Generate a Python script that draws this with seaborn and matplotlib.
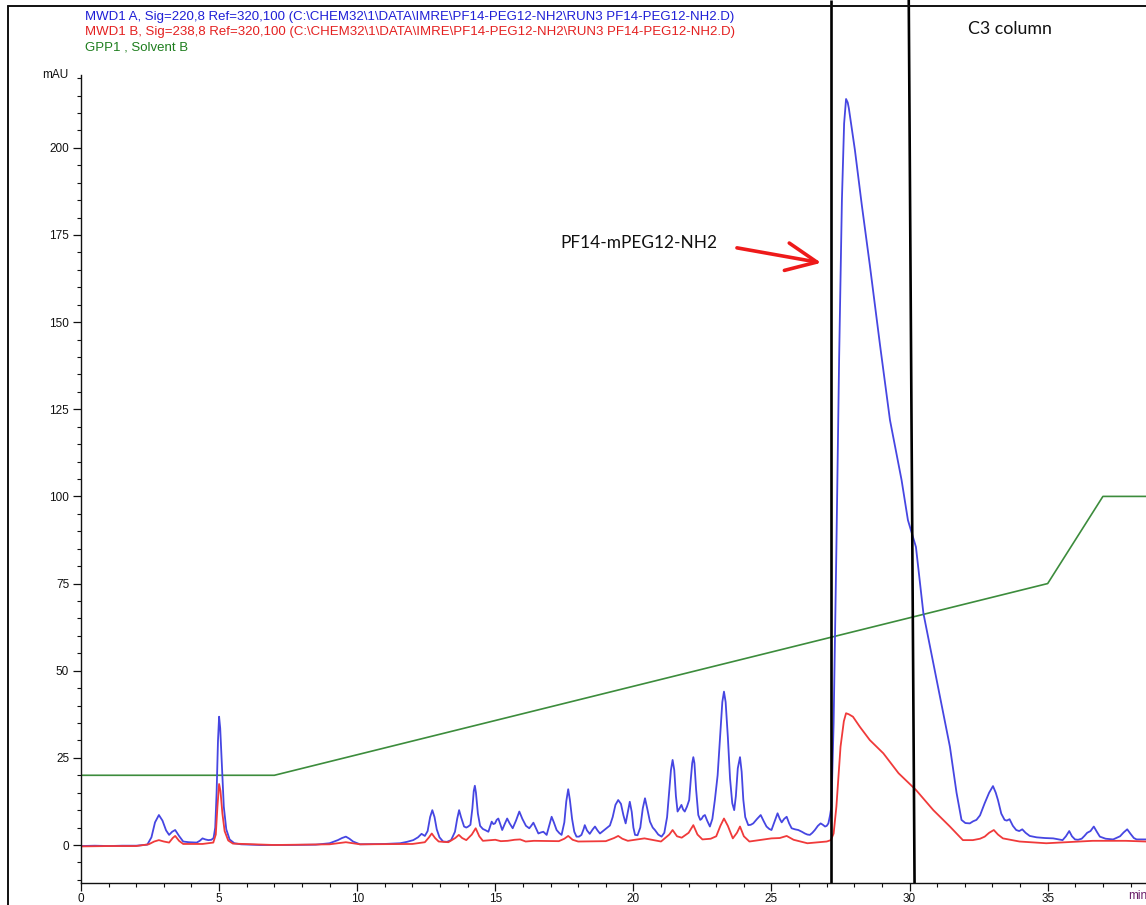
import numpy as np
import pandas as pd
import matplotlib
matplotlib.use("Agg")
import matplotlib.pyplot as plt
from matplotlib.lines import Line2D
from matplotlib.ticker import MultipleLocator
import seaborn as sns

# --- Signal A (220 nm): retention time [min] and absorbance [mAU] ---
sig_a_time = [0, 0.5, 1.0, 1.5, 2.0, 2.40, 2.55, 2.68, 2.82, 2.95, 3.08, 3.19, 3.30, 3.41, 3.55,
              3.70, 3.90, 4.19, 4.30, 4.40, 4.50, 4.61, 4.72, 4.80, 4.86, 4.91, 4.96, 5.00, 5.04,
              5.10, 5.17, 5.26, 5.38, 5.55, 5.80, 6.5, 7.5, 8.5, 9.0, 9.3, 9.45, 9.59, 9.72, 9.85,
              10.1, 11.0, 11.55, 11.8,
              12.03, 12.2, 12.33, 12.45, 12.55, 12.64, 12.72, 12.80, 12.88, 12.98, 13.11, 13.25,
              13.40, 13.54, 13.62, 13.69, 13.76, 13.87, 13.95, 14.02, 14.10, 14.17, 14.22, 14.26,
              14.30, 14.37, 14.45, 14.55, 14.63, 14.75, 14.82, 14.87, 14.93, 14.99, 15.05, 15.11,
              15.18, 15.25, 15.34, 15.43, 15.52, 15.63, 15.75, 15.87, 15.98, 16.11, 16.23, 16.30,
              16.38, 16.46, 16.56, 16.65, 16.74, 16.86, 16.95, 17.04, 17.12, 17.22, 17.32, 17.40,
              17.50, 17.57, 17.64, 17.70, 17.78, 17.86, 17.94, 18.03, 18.12, 18.20, 18.24, 18.32,
              18.42, 18.52, 18.61, 18.70, 18.79, 18.90, 19.03, 19.15, 19.25, 19.35, 19.45, 19.55,
              19.64, 19.72, 19.80, 19.87, 19.94, 20.00, 20.06, 20.15, 20.25, 20.34, 20.42, 20.50,
              20.60, 20.70, 20.78, 20.90, 21.02, 21.12, 21.22, 21.30, 21.36, 21.42, 21.48, 21.54,
              21.60, 21.67, 21.74, 21.80, 21.86, 21.94, 22.02, 22.08, 22.13, 22.17, 22.21, 22.27,
              22.35, 22.42, 22.47, 22.53, 22.59, 22.67, 22.77, 22.86, 22.95, 23.05, 23.14, 23.22,
              23.28, 23.34, 23.42, 23.50, 23.58, 23.65, 23.71, 23.78, 23.86, 23.92, 23.98, 24.05,
              24.16, 24.25, 24.34, 24.48, 24.61, 24.72, 24.82, 24.92, 25.00, 25.10, 25.22, 25.30,
              25.37, 25.46, 25.55, 25.64, 25.73, 25.85, 25.97, 26.10, 26.21, 26.30, 26.39, 26.48,
              26.57, 26.68, 26.78, 26.86, 26.94, 27.00, 27.06, 27.12, 27.17,
              27.25, 27.35, 27.45, 27.55, 27.63, 27.70, 27.76, 27.80, 28.02, 28.27, 28.56, 28.93,
              29.29, 29.71, 29.94, 30.23, 30.50, 30.98, 31.46, 31.70, 31.88, 32.02, 32.18, 32.30,
              32.42, 32.55, 32.72, 32.88, 33.02, 33.12, 33.20, 33.32, 33.44, 33.52, 33.62, 33.74,
              33.86, 33.97, 34.08, 34.20, 34.35, 34.60, 34.90, 35.20, 35.40, 35.54, 35.66, 35.78,
              35.88, 35.99, 36.10, 36.23, 36.33, 36.43, 36.55, 36.67, 36.78, 36.89, 37.10, 37.37,
              37.62, 37.75, 37.88, 38.00, 38.12, 38.22, 38.56]
sig_a_mau = [-0.3, -0.2, -0.3, -0.2, -0.2, 0.1, 2.2, 6.5, 8.6, 7.0, 4.2, 2.9, 3.8, 4.3, 2.6,
             1.0, 0.8, 0.7, 1.2, 1.9, 1.6, 1.4, 1.5, 2.0, 5.0, 15.0, 30.0, 36.8, 33.5,
             23.0, 11.0, 4.5, 1.6, 0.5, 0.2, 0.0, 0.0, 0.1, 0.5, 1.4, 2.0, 2.4, 1.8, 1.0,
             0.2, 0.3, 0.5, 0.9,
             1.4, 2.2, 3.2, 2.6, 4.0, 8.0, 10.0, 8.0, 4.5, 2.2, 1.0, 0.9,
             1.4, 3.8, 7.5, 10.0, 8.0, 5.3, 5.0, 5.3, 5.8, 10.5, 15.5, 17.0,
             15.0, 9.0, 5.5, 4.6, 4.3, 3.8, 5.5, 6.7, 6.0, 6.2, 7.2, 7.6,
             6.0, 4.3, 6.0, 7.6, 6.2, 4.8, 7.0, 9.6, 7.5, 5.5, 4.8, 5.5,
             6.4, 5.0, 3.3, 3.6, 3.8, 2.9, 5.5, 8.1, 6.5, 4.3, 3.4, 2.9,
             6.5, 12.5, 16.0, 13.0, 7.5, 3.8, 2.4, 2.4, 2.9, 4.6, 5.7, 4.2,
             3.2, 4.4, 5.3, 4.2, 3.3, 4.0, 4.8, 5.6, 8.0, 11.5, 12.9, 11.8,
             8.5, 6.2, 9.5, 12.4, 9.5, 5.0, 2.9, 2.8, 5.0, 10.5, 13.4, 10.5,
             6.7, 5.0, 4.3, 3.0, 2.4, 3.5, 8.0, 15.5, 21.5, 24.4, 21.5, 14.0,
             9.6, 10.5, 11.5, 10.2, 9.6, 11.0, 12.9, 19.0, 23.5, 25.2, 23.5, 16.0,
             8.6, 7.2, 7.5, 8.3, 8.6, 7.0, 5.3, 7.5, 12.9, 20.0, 31.0, 41.0,
             44.0, 41.0, 31.0, 19.0, 12.0, 10.0, 14.0, 22.0, 25.2, 21.0, 13.0, 8.0,
             5.7, 5.8, 6.2, 7.5, 8.6, 6.8, 5.3, 4.6, 4.3, 6.5, 9.1, 7.5,
             6.5, 7.5, 8.1, 6.2, 4.8, 4.5, 4.3, 3.8, 3.3, 3.0, 2.9, 3.5,
             4.3, 5.5, 6.2, 5.8, 5.3, 5.5, 6.2, 8.5, 11.0,
             35.0, 85.0, 140.0, 185.0, 207.0, 214.0, 213.0, 211.4, 199.4, 183.6, 166.4, 143.4,
             121.9, 104.7, 93.2, 85.5, 66.5, 47.3, 28.2, 15.0, 7.2, 6.3, 6.2, 6.8,
             7.2, 8.5, 12.0, 15.0, 16.9, 15.0, 12.9, 9.0, 7.2, 7.0, 7.4, 5.5,
             4.3, 4.0, 4.5, 3.5, 2.6, 2.2, 2.0, 1.9, 1.6, 1.4, 2.5, 4.0,
             2.5, 1.6, 1.5, 1.8, 2.6, 3.5, 4.0, 5.3, 3.8, 2.4, 1.8, 1.6,
             2.5, 3.6, 4.5, 3.2, 2.0, 1.6, 1.6]

# --- Signal B (238 nm) ---
sig_b_time = [0, 1.0, 2.0, 2.45, 2.65, 2.82, 3.0, 3.19, 3.32, 3.41, 3.55, 3.70, 4.40, 4.79,
              4.88, 4.94, 5.00, 5.05, 5.12, 5.20, 5.33, 5.50, 7.0, 9.0, 9.59, 10.1, 12.0, 12.45,
              12.60, 12.70, 12.82, 12.95, 13.3, 13.55, 13.68, 13.80, 13.95, 14.15, 14.29, 14.42,
              14.55, 15.0, 15.2, 15.45, 15.7, 15.9, 16.1, 16.4, 17.3, 17.5, 17.64, 17.8, 18.0,
              19.0, 19.3, 19.45, 19.6, 19.8, 20.4, 21.0, 21.3, 21.42, 21.58, 21.75, 22.0, 22.17,
              22.32, 22.5, 22.8, 23.0, 23.15, 23.28, 23.42, 23.6, 23.75, 23.86, 24.0, 24.2, 25.0,
              25.3, 25.55, 25.8, 26.3, 27.0, 27.15, 27.25, 27.35, 27.50, 27.62, 27.70, 27.80,
              27.95, 28.20, 28.56, 29.05, 29.60, 30.23, 30.86, 31.46, 31.93, 32.29, 32.55, 32.72,
              32.88, 33.05, 33.20, 33.38, 33.98, 34.95, 36.63, 37.83, 38.56]
sig_b_mau = [-0.4, -0.3, -0.3, 0.2, 1.0, 1.4, 1.0, 0.7, 2.0, 2.6, 1.2, 0.3, 0.3, 0.7,
             3.0, 11.0, 17.5, 15.5, 9.0, 4.0, 1.3, 0.4, 0.0, 0.2, 0.8, 0.2, 0.3, 0.8,
             2.2, 3.3, 2.0, 1.0, 0.8, 2.0, 2.9, 2.0, 1.4, 3.0, 4.8, 2.5,
             1.2, 1.5, 1.1, 1.2, 1.5, 1.6, 1.0, 1.2, 1.1, 1.8, 2.6, 1.5, 1.0,
             1.1, 2.0, 2.6, 1.8, 1.2, 1.9, 1.0, 3.0, 4.3, 2.5, 2.1, 3.5, 5.7,
             3.0, 1.6, 1.8, 2.5, 5.5, 7.6, 5.5, 1.9, 3.5, 5.3, 2.5, 1.0, 1.9,
             2.0, 2.6, 1.5, 0.5, 1.0, 1.4, 3.3, 11.0, 28.2, 35.5, 37.8, 37.5,
             36.8, 33.9, 30.1, 26.3, 20.6, 15.8, 10.0, 5.3, 1.4, 1.4, 1.8, 2.4,
             3.5, 4.3, 3.0, 1.9, 1.0, 0.5, 1.2, 1.2, 1.0]

# --- Solvent B gradient program [%] ---
grad_time = [0, 7, 35, 37, 38.56]
grad_pct = [20, 20, 75, 100, 100]

y_ticks = [0, 25, 50, 75, 100, 125, 150, 175, 200]
x_ticks = [0, 5, 10, 15, 20, 25, 30, 35]

header_lines = [
    ("MWD1 A, Sig=220,8 Ref=320,100 (C:\\CHEM32\\1\\DATA\\IMRE\\PF14-PEG12-NH2\\RUN3 PF14-PEG12-NH2.D)", "#1f1fd6"),
    ("MWD1 B, Sig=238,8 Ref=320,100 (C:\\CHEM32\\1\\DATA\\IMRE\\PF14-PEG12-NH2\\RUN3 PF14-PEG12-NH2.D)", "#e42020"),
    ("GPP1 , Solvent B", "#1d7d1d"),
]

sns.set_style("ticks")
plt.rcParams["font.family"] = ["Liberation Sans", "DejaVu Sans"]

W, H = 1146, 905
fig = plt.figure(figsize=(W / 100, H / 100), dpi=100)
ax_left, ax_bottom_px = 81, 883
ax = fig.add_axes([ax_left / W, (H - ax_bottom_px) / H, (W - ax_left) / W, ax_bottom_px / H])

trace_a = pd.DataFrame({"time": sig_a_time, "mAU": sig_a_mau})
trace_b = pd.DataFrame({"time": sig_b_time, "mAU": sig_b_mau})
grad = pd.DataFrame({"time": grad_time, "pct": grad_pct})

sns.lineplot(data=grad, x="time", y="pct", ax=ax, color="#3c8c3c", linewidth=1.2, sort=False)
sns.lineplot(data=trace_a, x="time", y="mAU", ax=ax, color="#4646e2", linewidth=1.3, sort=False)
sns.lineplot(data=trace_b, x="time", y="mAU", ax=ax, color="#f03a3a", linewidth=1.3, sort=False)

ax.set_xlim(0, 38.56)
ax.set_ylim(-10.9, 242.4)
ax.set_xlabel("")
ax.set_ylabel("")
ax.set_xticks(x_ticks)
ax.set_yticks(y_ticks)
ax.xaxis.set_minor_locator(MultipleLocator(1))
ax.set_yticks([v for v in np.arange(-10, 221, 5) if v % 25 != 0], minor=True)
ax.tick_params(axis="both", which="major", length=5.5, width=0.9, labelsize=8.5, colors="#111111", pad=1.5)
ax.tick_params(axis="both", which="minor", length=3.2, width=0.8, colors="#111111")
ax.tick_params(axis="y", which="major", pad=3)
for s in ("top", "right"):
    ax.spines[s].set_visible(False)
ax.spines["left"].set_bounds(-10.9, 221)
for s in ("left", "bottom"):
    ax.spines[s].set_linewidth(1.0)
    ax.spines[s].set_color("#111111")

# Fraction-collection window markers
ax.plot([27.15, 27.15], [-10.9, 242.4], color="black", lw=1.9, solid_capstyle="butt")
ax.plot([29.97, 30.18], [242.4, -10.9], color="black", lw=1.9, solid_capstyle="butt")

# Annotations
ax.text(33.63, 234.1, "C3 column", fontsize=12.8, family=["Lato", "DejaVu Sans"],
        ha="center", va="center", color="#111111")
ax.text(20.2, 172.7, "PF14-mPEG12-NH2", fontsize=12.4, family=["Lato", "DejaVu Sans"],
        ha="center", va="center", color="#111111")
ax.annotate("", xy=(26.8, 167.0), xytext=(23.75, 171.3),
            arrowprops=dict(arrowstyle="->,head_length=1.1,head_width=0.5",
                            color="#ee1a1a", lw=2.6, mutation_scale=20,
                            shrinkA=0, shrinkB=0))

# Axis unit labels
fig.text(55 / W, 1 - 75 / H, "mAU", fontsize=8.5, ha="center", va="center", color="#111111")
fig.text(1128 / W, 1 - 896 / H, "min", fontsize=8.5, ha="left", va="center", color="#6a1f6a")

# Header lines naming each trace
for i, (txt, col) in enumerate(header_lines):
    fig.text(85 / W, 1 - (17 + 15 * i) / H, txt, fontsize=9.5, ha="left", va="center", color=col)

# Report page frame
fig.add_artist(Line2D([8 / W, 8 / W], [0, 1 - 6 / H], transform=fig.transFigure, color="#111111", lw=1.4))
fig.add_artist(Line2D([8 / W, 1], [1 - 6 / H, 1 - 6 / H], transform=fig.transFigure, color="#111111", lw=1.4))

fig.savefig("out.png", dpi=100)
